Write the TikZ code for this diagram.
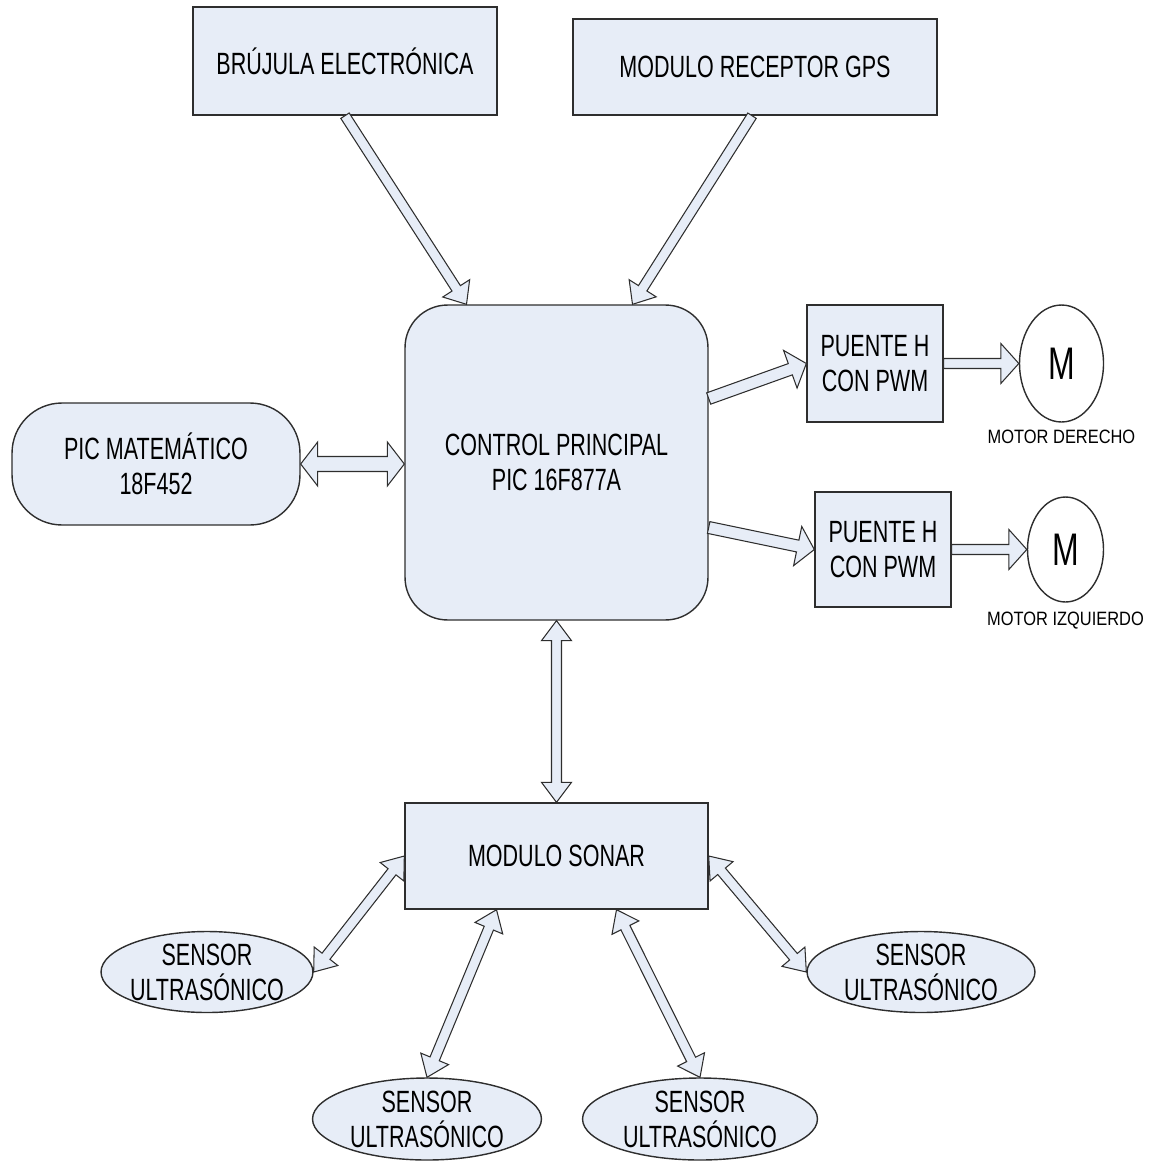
\documentclass[tikz,border=0pt]{standalone}
\usepackage{fontspec}
\setmainfont[FakeStretch=0.7]{Liberation Sans}
\newfontfamily\motorfont[FakeStretch=0.85]{Liberation Sans}
\usepackage{tikz}
\usetikzlibrary{calc, positioning, shapes.geometric}
\definecolor{BoxFill}{HTML}{E7EDF7}
\definecolor{BoxLine}{HTML}{2E2E2E}
\newcommand{\blockfont}{\fontsize{17.5}{20}\selectfont}
\tikzset{
    shaftw/.store in=\shaftw,
    headw/.store in=\headw,
    headl/.store in=\headl,
    shaftw=0.1cm, headw=0.3cm, headl=0.4cm,
    flatblock/.style={
        rectangle,
        draw=BoxLine,
        fill=BoxFill,
        align=center,
        font=\blockfont,
        inner sep=0pt,
        line width=0.8pt
    },
    roundblock/.style={
        flatblock,
        rounded corners=0.85cm
    },
    sensor/.style={
        ellipse,
        draw=BoxLine,
        fill=BoxFill,
        inner sep=0pt,
        minimum height=1.62cm,
        line width=0.8pt
    },
    motor/.style={
        ellipse,
        draw=BoxLine,
        fill=white,
        inner sep=0pt,
        font=\fontsize{26}{30}\selectfont,
        line width=0.8pt
    },
    labeltext/.style={
        font=\motorfont\fontsize{11}{13}\selectfont,
        inner sep=1pt
    },
    blockarrow/.style={
        draw=BoxLine,
        fill=BoxFill,
        line width=0.6pt,
        to path={
            ($(\tikztostart)!\shaftw!90:(\tikztotarget)$)
            -- ($(\tikztotarget)!\headl!(\tikztostart)!\shaftw!-90:(\tikztostart)$)
            -- ($(\tikztotarget)!\headl!(\tikztostart)!\headw!-90:(\tikztostart)$)
            -- (\tikztotarget)
            -- ($(\tikztotarget)!\headl!(\tikztostart)!\headw!90:(\tikztostart)$)
            -- ($(\tikztotarget)!\headl!(\tikztostart)!\shaftw!90:(\tikztostart)$)
            -- ($(\tikztostart)!\shaftw!-90:(\tikztotarget)$)
            -- cycle
        }
    },
    dblockarrow/.style={
        draw=BoxLine,
        fill=BoxFill,
        line width=0.6pt,
        to path={
            (\tikztostart)
            -- ($(\tikztostart)!\headl!(\tikztotarget)!\headw!90:(\tikztotarget)$)
            -- ($(\tikztostart)!\headl!(\tikztotarget)!\shaftw!90:(\tikztotarget)$)
            -- ($(\tikztotarget)!\headl!(\tikztostart)!\shaftw!-90:(\tikztostart)$)
            -- ($(\tikztotarget)!\headl!(\tikztostart)!\headw!-90:(\tikztostart)$)
            -- (\tikztotarget)
            -- ($(\tikztotarget)!\headl!(\tikztostart)!\headw!90:(\tikztostart)$)
            -- ($(\tikztotarget)!\headl!(\tikztostart)!\shaftw!90:(\tikztostart)$)
            -- ($(\tikztostart)!\headl!(\tikztotarget)!\shaftw!-90:(\tikztotarget)$)
            -- ($(\tikztostart)!\headl!(\tikztotarget)!\headw!-90:(\tikztotarget)$)
            -- cycle
        }
    }
}

\begin{document}
\begin{tikzpicture}[x=0.02cm, y=-0.02cm]
    \useasboundingbox (0,0) rectangle (1152,1162);

    % Nodes
    \node[flatblock, minimum width=6.08cm, minimum height=2.16cm] (bruj) at (345,61) {BRÚJULA ELECTRÓNICA};
    \node[flatblock, minimum width=7.28cm, minimum height=1.92cm] (gps) at (755,67) {MODULO RECEPTOR GPS};

    \node[roundblock, minimum width=6.06cm, minimum height=6.3cm] (ctrl) at (556.5,462.5) {CONTROL PRINCIPAL\\PIC 16F877A};
    \node[roundblock, rounded corners=1cm, minimum width=5.76cm, minimum height=2.44cm] (picm) at (156,464) {PIC MATEMÁTICO\\18F452};

    \node[flatblock, minimum width=2.72cm, minimum height=2.34cm] (pder) at (875,363.5) {PUENTE H\\CON PWM};
    \node[flatblock, minimum width=2.72cm, minimum height=2.3cm] (pizq) at (883,549.5) {PUENTE H\\CON PWM};

    \node[motor, minimum width=1.68cm, minimum height=2.34cm] (mder) at (1061.5,363.5) {M};
    \node[motor, minimum width=1.52cm, minimum height=2.1cm] (mizq) at (1065.5,549.5) {M};
    \node[labeltext, below=3pt of mder] (lder) {MOTOR DERECHO};
    \node[labeltext, below=4pt of mizq] (lizq) {MOTOR IZQUIERDO};

    \node[flatblock, minimum width=6.06cm, minimum height=2.12cm] (sonar) at (556.5,856) {MODULO SONAR};

    \node[sensor, minimum width=4.24cm, label={[align=center, font=\blockfont]center:SENSOR\\ULTRASÓNICO}] (sizq) at (207,972) {};
    \node[sensor, minimum width=4.56cm, label={[align=center, font=\blockfont]center:SENSOR\\ULTRASÓNICO}] (sder) at (921,972) {};
    \node[sensor, minimum width=4.58cm, minimum height=1.64cm, label={[align=center, font=\blockfont]center:SENSOR\\ULTRASÓNICO}] (sbi) at (427,1119) {};
    \node[sensor, minimum width=4.7cm, minimum height=1.64cm, label={[align=center, font=\blockfont]center:SENSOR\\ULTRASÓNICO}] (sbd) at (700,1119) {};

    % Arrows
    \draw[blockarrow, headw=0.32cm, headl=0.38cm] (bruj.south) to ($(ctrl.north)+(-90,0)$);
    \draw[blockarrow, headw=0.32cm, headl=0.38cm] ($(gps.south)+(-3,0)$) to ($(ctrl.north)+(76,0)$);

    \draw[dblockarrow, shaftw=0.15cm, headw=0.44cm, headl=0.34cm] (picm.east) to (picm.east -| ctrl.west);

    \draw[blockarrow, shaftw=0.12cm, headw=0.4cm, headl=0.34cm] ($(ctrl.east)+(0,-64)$) to (pder.west);
    \draw[blockarrow, shaftw=0.12cm, headw=0.4cm, headl=0.34cm] ($(ctrl.east)+(0,65)$) to (pizq.west);

    \draw[blockarrow, headw=0.4cm, headl=0.36cm] (pder.east) to (mder.west);
    \draw[blockarrow, headw=0.4cm, headl=0.36cm] (pizq.east) to (mizq.west);

    \draw[dblockarrow] (ctrl.south) to (sonar.north);

    \draw[dblockarrow] (sonar.west) to (sizq.east);
    \draw[dblockarrow] ($(sonar.south)+(-60,0)$) to (sbi.north);
    \draw[dblockarrow] ($(sonar.south)+(60,0)$) to (sbd.north);
    \draw[dblockarrow] (sonar.east) to (sder.west);

\end{tikzpicture}
\end{document}
